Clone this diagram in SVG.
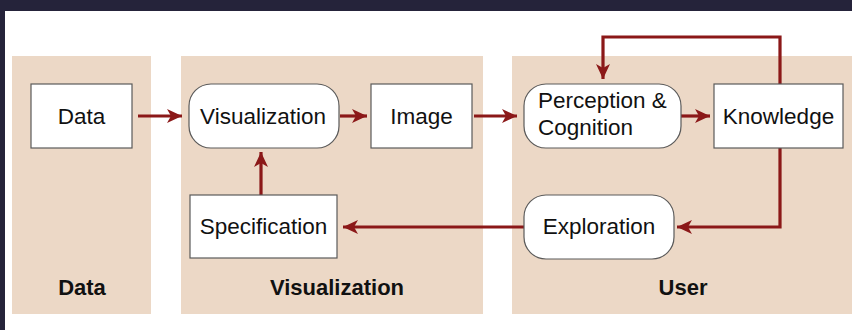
<svg xmlns="http://www.w3.org/2000/svg" width="852" height="330" viewBox="0 0 852 330">
<defs>
<style>
.panel{fill:#ecd8c6}
.box{fill:#fff;stroke:#5a5a5a;stroke-width:1.2}
.t{font-family:"Liberation Sans",Arial,sans-serif;font-size:22.5px;fill:#111}
.lb{font-family:"Liberation Sans",Arial,sans-serif;font-size:22px;font-weight:bold;fill:#111;text-anchor:middle}
.c{text-anchor:middle}
.ar{fill:none;stroke:#8b1818;stroke-width:3.2;marker-end:url(#ah)}
</style>
<marker id="ah" markerUnits="userSpaceOnUse" markerWidth="16" markerHeight="16" viewBox="0 0 16 16" refX="15" refY="8" orient="auto">
<path d="M0,1 L15,8 L0,15 L4,8 z" fill="#8b1818"/>
</marker>
</defs>
<rect x="0" y="0" width="852" height="330" fill="#fff"/>
<rect x="0" y="0" width="852" height="11" fill="#25233a"/>
<rect x="0" y="0" width="5" height="330" fill="#25233a"/>
<g id="panels">
<rect class="panel" x="12" y="56" width="139" height="258"/>
<rect class="panel" x="181" y="56" width="302" height="258"/>
<rect class="panel" x="512" y="56" width="340" height="258"/>
<text class="lb" x="82" y="295">Data</text>
<text class="lb" x="337" y="295">Visualization</text>
<text class="lb" x="683" y="295">User</text>
</g>
<g id="connectors">
<path class="ar" d="M138,116 H182"/>
<path class="ar" d="M340,116 H367"/>
<path class="ar" d="M474,116 H517"/>
<path class="ar" d="M681,116 H710"/>
<path class="ar" d="M780,84 V37 H603 V79"/>
<path class="ar" d="M780,148 V227 H677"/>
<path class="ar" d="M524,227 H343"/>
<path class="ar" d="M261,195 V152"/>
</g>
<g id="data"><rect class="box" x="31" y="84" width="101" height="64"/><text class="t c" x="81.5" y="123.5">Data</text></g>
<g id="visualization"><rect class="box" x="189" y="84" width="150" height="64" rx="22"/><text class="t c" x="263" y="123.5">Visualization</text></g>
<g id="image"><rect class="box" x="371" y="84" width="101" height="64"/><text class="t c" x="421.5" y="123.5">Image</text></g>
<g id="perception"><rect class="box" x="524" y="84" width="157" height="64" rx="22"/><text class="t" x="538" y="108">Perception &amp;</text><text class="t" x="538" y="135">Cognition</text></g>
<g id="knowledge"><rect class="box" x="714" y="84" width="129" height="64"/><text class="t c" x="778.5" y="123.5">Knowledge</text></g>
<g id="specification"><rect class="box" x="190" y="195" width="147" height="63"/><text class="t c" x="263.5" y="234">Specification</text></g>
<g id="exploration"><rect class="box" x="524" y="195" width="150" height="64" rx="22"/><text class="t c" x="599" y="234">Exploration</text></g>
</svg>
